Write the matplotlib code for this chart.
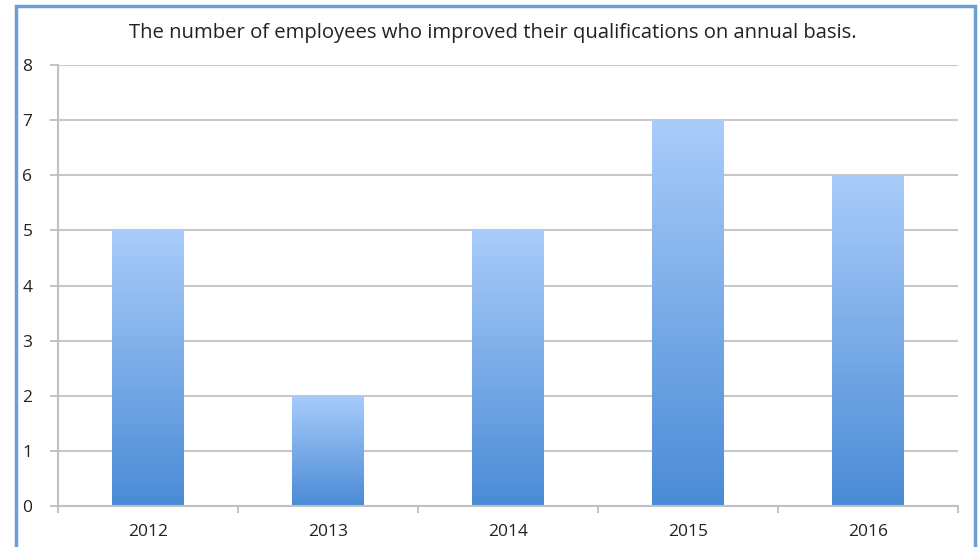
import matplotlib
matplotlib.use("Agg")
import matplotlib.pyplot as plt
import numpy as np
from matplotlib.colors import LinearSegmentedColormap
from matplotlib.patches import Rectangle

years = ["2012", "2013", "2014", "2015", "2016"]
values = [5, 2, 5, 7, 6]
title = "The number of employees who improved their qualifications on annual basis."

plt.rcParams['font.family'] = ['Open Sans', 'DejaVu Sans']

W, H = 979, 547
fig = plt.figure(figsize=(W/100, H/100), dpi=100)

# outer blue frame
fig.patches.append(Rectangle((16/W, -0.05), (975-16)/W, (H-6)/H + 0.05, transform=fig.transFigure,
                             fill=False, edgecolor='#6c9fd6', linewidth=2.5, zorder=0))

ax = fig.add_axes([58/W, (H-506)/H, (958-58)/W, (506-65)/H])
x = np.arange(len(years))
bw = 0.4
bars = ax.bar(x, values, width=bw, color='none', edgecolor='none', zorder=2)

cmap = LinearSegmentedColormap.from_list('g', ['#4a8bd6', '#a9ccfa'])
grad = np.linspace(0, 1, 256).reshape(-1, 1)
for b in bars:
    x0, y0 = b.get_x(), b.get_y()
    w, h = b.get_width(), b.get_height()
    im = ax.imshow(grad, cmap=cmap, origin='lower', aspect='auto',
                   extent=[x0, x0 + w, y0, y0 + h], zorder=2)
    im.set_clip_path(b)

ax.set_xlim(-0.5, len(years) - 0.5)
ax.set_ylim(0, 8)
ax.set_yticks(range(0, 9))
ax.set_xticks(x)
ax.set_xticklabels(years)
ax.set_xticks(np.arange(-0.5, len(years)), minor=True)
ax.tick_params(axis='x', which='major', length=0, pad=13, labelsize=12.5, labelcolor='#222222')
ax.tick_params(axis='x', which='minor', length=5, width=1.2, color='#b8b8b8', direction='out')
ax.tick_params(axis='y', length=6, width=1.2, color='#b8b8b8', pad=16, labelsize=12.5, labelcolor='#222222')
for lab in ax.get_yticklabels():
    lab.set_horizontalalignment('center')

ax.grid(axis='y', color='#c8c8c8', linewidth=1.5, zorder=0)
ax.set_axisbelow(True)
for s in ['top', 'right']:
    ax.spines[s].set_visible(False)
ax.spines['left'].set_color('#c0c0c0')
ax.spines['left'].set_linewidth(1.5)
ax.spines['bottom'].set_color('#c0c0c0')
ax.spines['bottom'].set_linewidth(1.5)

fig.text(493/W, 1 - 33/H, title, ha='center', va='center', fontsize=14.6, color='#222222')

fig.savefig('out.png', dpi=100)
